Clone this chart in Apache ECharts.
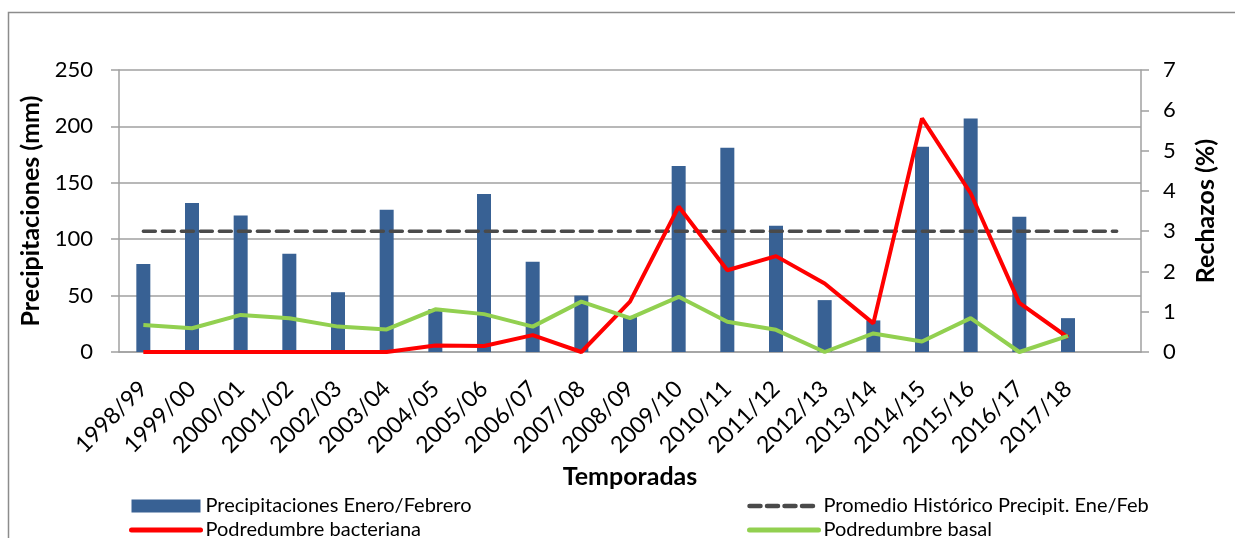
<!DOCTYPE html>
<html><head><meta charset="utf-8">
<script src="https://cdn.jsdelivr.net/npm/echarts@6/dist/echarts.min.js"></script>
<style>html,body{margin:0;padding:0;background:#fff}#c{width:1235px;height:538px}</style>
</head><body><div id="c"></div>
<script>
const categories = ['1998/99','1999/00','2000/01','2001/02','2002/03','2003/04','2004/05','2005/06','2006/07','2007/08','2008/09','2009/10','2010/11','2011/12','2012/13','2013/14','2014/15','2015/16','2016/17','2017/18',''];
const precipitaciones = [78,132,121,87,53,126,38,140,80,50,32,165,181,112,46,28,182,207,120,30,null];
const promedioHistorico = [107,107,107,107,107,107,107,107,107,107,107,107,107,107,107,107,107,107,107,107,107];
const podredumbreBacteriana = [0,0,0,0,0,0,0.16,0.15,0.42,0,1.25,3.61,2.03,2.38,1.70,0.71,5.80,3.94,1.22,0.36,null];
const podredumbreBasal = [0.67,0.59,0.92,0.84,0.63,0.56,1.06,0.94,0.63,1.25,0.84,1.37,0.75,0.55,0,0.46,0.26,0.84,0,0.40,null];
const leftTicks = [0,50,100,150,200,250];
const rightTicks = [0,1,2,3,4,5,6,7];

const FONT = 'Lato';
const hideSym = {opacity:0};
const chart = echarts.init(document.getElementById('c'), null, {renderer:'canvas'});
chart.setOption({
  animation:false,
  textStyle:{fontFamily:FONT,color:'#000'},
  graphic:[{type:'rect',shape:{x:8.5,y:12.5,width:1300,height:600},style:{fill:'none',stroke:'#8c8c8c',lineWidth:1.5},silent:true}],
  grid:{left:119,right:94,top:70,bottom:186},
  legend:[
    {left:124,top:491,height:120,orient:'vertical',itemWidth:69,itemHeight:13,itemGap:4,
     textStyle:{fontFamily:FONT,fontSize:20,color:'#000'},
     data:[{name:'Precipitaciones Enero/Febrero',icon:'rect'},
           {name:'Podredumbre bacteriana',itemStyle:hideSym,lineStyle:{width:5,cap:'round'}}]},
    {left:742,top:491,height:120,orient:'vertical',itemWidth:69,itemHeight:13,itemGap:4,
     textStyle:{fontFamily:FONT,fontSize:20,color:'#000'},
     data:[{name:'Promedio Histórico Precipit. Ene/Feb',itemStyle:hideSym,lineStyle:{width:4.5,type:[11,6.5],cap:'round'}},
           {name:'Podredumbre basal',itemStyle:hideSym,lineStyle:{width:5,cap:'round'}}]}
  ],
  xAxis:{type:'category',data:categories,boundaryGap:true,
    name:'Temporadas',nameLocation:'middle',nameGap:108,
    nameTextStyle:{fontFamily:FONT,fontSize:25,fontWeight:'bold',color:'#000'},
    axisLine:{lineStyle:{color:'#a0a0a0',width:1.5}},axisTick:{show:false},
    axisLabel:{rotate:45,fontSize:23,color:'#000',margin:33,interval:0}},
  yAxis:[
    {type:'value',min:0,max:250,interval:50,position:'left',
     name:'Precipitaciones (mm)',nameLocation:'middle',nameGap:70,
     nameTextStyle:{fontFamily:FONT,fontSize:25,fontWeight:'bold',color:'#000'},
     axisLine:{show:true,lineStyle:{color:'#a0a0a0',width:1.5}},
     axisTick:{show:true,length:8,lineStyle:{color:'#a0a0a0',width:1.5}},
     axisLabel:{fontSize:22,color:'#000',margin:26},
     splitLine:{show:true,lineStyle:{color:'#a0a0a0',width:1.5}}},
    {type:'value',min:0,max:7,interval:1,position:'right',
     name:'Rechazos (%)',nameLocation:'middle',nameGap:52,nameRotate:90,
     nameTextStyle:{fontFamily:FONT,fontSize:25,fontWeight:'bold',color:'#000'},
     axisLine:{show:true,lineStyle:{color:'#a0a0a0',width:1.5}},
     axisTick:{show:true,length:8,lineStyle:{color:'#a0a0a0',width:1.5}},
     axisLabel:{fontSize:22,color:'#000',margin:22},
     splitLine:{show:false}}
  ],
  series:[
    {name:'Precipitaciones Enero/Febrero',type:'bar',yAxisIndex:0,data:precipitaciones,
     barWidth:14,itemStyle:{color:'#386194'}},
    {name:'Promedio Histórico Precipit. Ene/Feb',type:'line',yAxisIndex:0,data:promedioHistorico,
     symbol:'none',lineStyle:{color:'#4a4a4a',width:3.5,type:[12,7],cap:'round'},itemStyle:{color:'#4a4a4a'}},
    {name:'Podredumbre bacteriana',type:'line',yAxisIndex:1,data:podredumbreBacteriana,
     symbol:'none',lineStyle:{color:'#ff0000',width:4},itemStyle:{color:'#ff0000'}},
    {name:'Podredumbre basal',type:'line',yAxisIndex:1,data:podredumbreBasal,
     symbol:'none',lineStyle:{color:'#92d050',width:4},itemStyle:{color:'#92d050'}}
  ]
});
</script></body></html>
